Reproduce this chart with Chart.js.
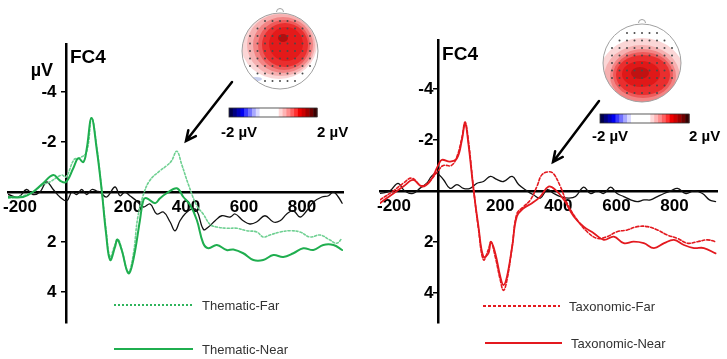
<!DOCTYPE html>
<html>
<head>
<meta charset="utf-8">
<script src="https://cdn.jsdelivr.net/npm/chart.js@4"></script>
<style>
  html, body { margin: 0; padding: 0; background: #fff; }
  #wrap { position: relative; width: 727px; height: 359px; overflow: hidden; }
  #wrap canvas { position: absolute; left: 0; top: 0; }
</style>
</head>
<body>
<div id="wrap">
  <canvas id="thematicChart" width="727" height="359"></canvas>
  <canvas id="taxonomicChart" width="727" height="359"></canvas>
</div>
<script>
// --- Axis ticks ---
const xTickValues = [-200, 200, 400, 600, 800];
const xTickLabels = ["-200", "200", "400", "600", "800"];
const yTickValues = [-4, -2, 2, 4];
const yTickLabels = ["-4", "-2", "2", "4"];

// --- Thematic panel (FC4), time in ms, amplitude in µV ---
const themNearT = [-200, -148, -114, -79, -44, -20, 0, 25, 42, 60, 71, 88, 106, 123, 138, 152, 169, 177, 192, 215, 232, 255, 267, 278, 307, 324, 347, 382, 404, 428, 451, 473, 491, 520, 554, 577, 611, 646, 680, 715, 749, 784, 818, 853, 887, 922, 952];
const themNearV = [0.2, 0.2, 0, -0.35, -0.68, -0.45, -0.4, -0.95, -1.35, -1.2, -1.7, -2.96, -1.7, -0.08, 1.65, 2.72, 2.2, 1.9, 2.32, 3.25, 2.72, 1.12, 0.32, 0.25, 0.45, 0.25, 0.05, -0.15, 0.19, 0.52, 1.12, 2.05, 2.25, 2.12, 2.32, 2.3, 2.45, 2.72, 2.72, 2.52, 2.6, 2.45, 2.25, 2.32, 2.12, 2.12, 2.32];
const themFarT = [-200, -148, -114, -79, -56, -15, 0, 28, 45, 71, 88, 106, 123, 138, 152, 169, 180, 192, 215, 232, 247, 267, 290, 324, 347, 364, 382, 399, 422, 451, 473, 497, 520, 554, 589, 623, 658, 680, 703, 738, 772, 807, 841, 876, 910, 933, 952];
const themFarV = [0.25, 0.15, 0, -0.3, -0.4, -0.68, -0.6, -1.3, -1.35, -1.6, -2.97, -1.8, -0.1, 1.5, 2.6, 2.1, 1.9, 2.3, 3.2, 2.5, 1.05, 0.1, -0.48, -0.85, -1.05, -1.25, -1.63, -1.1, -0.3, 0.55, 0.88, 1.3, 1.4, 1.45, 1.45, 1.55, 1.6, 1.8, 1.72, 1.6, 1.55, 1.6, 1.8, 1.72, 1.92, 2.05, 1.85];
const themDiffT = [-200, -164, -136, -114, -90, -67, -44, -21, 3, 20, 37, 54, 71, 89, 106, 117, 140, 169, 186, 203, 220, 243, 267, 290, 313, 336, 359, 376, 393, 410, 433, 451, 474, 491, 514, 537, 566, 583, 611, 634, 657, 686, 715, 738, 761, 784, 807, 830, 853, 882, 905, 922, 939, 952];
const themDiffV = [0.1, 0.2, -0.1, 0.1, 0, -0.4, -0.1, 0.2, 0.35, 0, 0.1, -0.1, 0.1, -0.1, -0.04, 0, 0.2, -0.2, 0.15, 0, 0.15, 0.35, 0.6, 0.48, 0.88, 0.8, 1.2, 1.55, 1.15, 0.88, 0.68, 0.75, 1.5, 1.4, 1.15, 0.95, 1.0, 0.88, 1.15, 1.28, 1.2, 0.95, 1.2, 1.15, 0.88, 0.75, 1.0, 0.75, 0.4, 0.2, 0.15, 0, 0.2, 0.45];

// --- Taxonomic panel (FC4) ---
const taxNearT = [-200, -154, -120, -86, -56, -28, 1, 13, 41, 65, 82, 93, 104, 122, 139, 156, 173, 182, 197, 214, 225, 237, 255, 271, 294, 323, 352, 380, 404, 433, 467, 501, 536, 570, 605, 639, 673, 708, 743, 778, 812, 846, 881, 915, 955];
const taxNearV = [0.48, 0.1, -0.17, -0.43, -0.17, -0.37, -1.02, -1.22, -1.15, -1.28, -2.0, -2.65, -1.87, -0.04, 1.4, 2.58, 2.45, 1.99, 2.45, 3.36, 3.69, 3.36, 2.18, 1.0, 0.68, 0.48, 0.22, -0.17, -0.04, 0.35, 1.0, 1.4, 1.66, 1.92, 1.79, 2.05, 1.99, 2.05, 2.24, 2.05, 1.92, 2.12, 2.24, 2.24, 2.45];
const taxFarT = [-200, -154, -120, -91, -56, -28, 1, 18, 46, 65, 82, 93, 104, 122, 139, 156, 173, 182, 197, 214, 225, 237, 255, 271, 294, 318, 340, 357, 380, 397, 421, 444, 479, 513, 548, 582, 616, 651, 685, 721, 755, 789, 824, 858, 893, 927, 955];
const taxFarV = [0.35, 0, -0.3, -0.5, -0.2, -0.4, -0.8, -1.0, -1.0, -1.35, -2.1, -2.7, -2.0, -0.1, 1.5, 2.7, 2.3, 2.0, 2.6, 3.5, 3.9, 3.5, 2.18, 0.9, 0.62, 0.35, -0.17, -0.63, -0.75, -0.68, -0.17, 0.48, 1.14, 1.6, 1.86, 1.79, 1.6, 1.53, 1.4, 1.4, 1.53, 1.73, 1.86, 2.05, 1.99, 1.92, 1.99];
const taxDiffT = [-200, -166, -138, -115, -86, -63, -39, -23, -6, 18, 41, 65, 87, 110, 134, 156, 180, 202, 225, 255, 277, 306, 328, 352, 376, 398, 421, 450, 473, 501, 524, 548, 570, 594, 616, 639, 663, 685, 709, 731, 755, 778, 801, 824, 853, 881, 910, 934, 955];
const taxDiffV = [0.1, 0, -0.3, 0, 0.1, -0.1, -0.3, -0.57, -0.7, -0.45, -0.1, -0.25, -0.1, -0.1, -0.3, -0.37, -0.57, -0.45, -0.37, -0.57, -0.25, 0, 0.15, 0.28, -0.05, 0.1, 0.22, 0.28, 0.22, -0.15, 0.1, 0, 0.1, -0.15, 0.1, 0.22, 0.35, 0.42, 0.35, 0.35, 0.22, 0.1, 0, -0.1, 0.1, 0, 0.1, 0.35, 0.42];

const toPoints = (ts, vs) => ts.map((t, i) => ({ x: t, y: vs[i] }));

// --- Colour bar steps (-2 µV .. 2 µV) ---
const colorbarSteps = [
  "#00004a", "#000080", "#0000b8", "#0000f0", "#3a3aff", "#7070ff", "#a8a8ff", "#d8d8ff",
  "#ffffff", "#ffffff", "#ffffff", "#ffffff", "#ffffff",
  "#ffd8d8", "#ffb4b4", "#ff8c8c", "#ff6060", "#ff3030", "#f00000", "#cc0000", "#a00000", "#700000", "#3a0000",
];

const AXIS_FONT = { family: "'Liberation Sans', Arial, sans-serif", size: 17, weight: "bold" };

function drawHead(ctx, head) {
  const { cx, cy, r, layers } = head;
  ctx.save();
  ctx.strokeStyle = "#a0a0a0";
  ctx.lineWidth = 1;
  // nose
  ctx.beginPath();
  ctx.arc(cx, cy - r - 1, 3.5, Math.PI, 0);
  ctx.stroke();
  ctx.beginPath();
  ctx.arc(cx, cy, r, 0, 2 * Math.PI);
  ctx.fillStyle = "#fff";
  ctx.fill();
  ctx.save();
  ctx.clip();
  layers.forEach((l) => {
    ctx.beginPath();
    ctx.ellipse(l.x, l.y, l.rx, l.ry, 0, 0, 2 * Math.PI);
    ctx.fillStyle = l.c;
    ctx.fill();
  });
  // electrodes
  ctx.fillStyle = "#4a4a4a";
  for (let gy = -5; gy <= 5; gy++) {
    for (let gx = -5; gx <= 5; gx++) {
      const px = cx + gx * 7.5;
      const py = cy + gy * 7.5;
      if (Math.hypot(px - cx, py - cy) < r - 3) {
        ctx.beginPath();
        ctx.arc(px, py, 1, 0, 2 * Math.PI);
        ctx.fill();
      }
    }
  }
  ctx.restore();
  ctx.beginPath();
  ctx.arc(cx, cy, r, 0, 2 * Math.PI);
  ctx.stroke();
  ctx.restore();
}

function drawColorbar(ctx, cb) {
  const step = cb.w / colorbarSteps.length;
  colorbarSteps.forEach((c, i) => {
    ctx.fillStyle = c;
    ctx.fillRect(cb.x + i * step, cb.y, step + 0.5, cb.h);
  });
  ctx.strokeStyle = "#333";
  ctx.lineWidth = 0.8;
  ctx.strokeRect(cb.x, cb.y, cb.w, cb.h);
  ctx.fillStyle = "#000";
  ctx.font = "bold 15px 'Liberation Sans', Arial, sans-serif";
  ctx.textBaseline = "alphabetic";
  ctx.textAlign = "center";
  ctx.fillText(cb.lo, cb.x + 10, cb.labelY);
  ctx.textAlign = "left";
  ctx.fillText(cb.hi, cb.x + cb.w, cb.labelY);
}

function drawArrow(ctx, a) {
  const ang = Math.atan2(a.y2 - a.y1, a.x2 - a.x1);
  ctx.strokeStyle = "#000";
  ctx.lineWidth = 2.5;
  ctx.lineCap = "round";
  ctx.beginPath();
  ctx.moveTo(a.x1, a.y1);
  ctx.lineTo(a.x2, a.y2);
  ctx.moveTo(a.x2 - 11 * Math.cos(ang - 0.45), a.y2 - 11 * Math.sin(ang - 0.45));
  ctx.lineTo(a.x2, a.y2);
  ctx.lineTo(a.x2 - 11 * Math.cos(ang + 0.45), a.y2 - 11 * Math.sin(ang + 0.45));
  ctx.stroke();
}

// --- Decorations: channel name, unit, first tick label, topomap, legend ---
const erpDecor = {
  id: "erpDecor",
  beforeDatasetsDraw(chart, args, opts) {
    const ctx = chart.ctx;
    const xs = chart.scales.x;
    const y0 = chart.scales.y.getPixelForValue(0);
    ctx.save();
    ctx.fillStyle = "#000";
    ctx.font = "bold 17px 'Liberation Sans', Arial, sans-serif";
    ctx.textAlign = "center";
    ctx.textBaseline = "middle";
    ctx.fillText(xTickLabels[0], xs.getPixelForValue(xTickValues[0]) + opts.firstTickShift, y0 + 15);
    ctx.restore();
  },
  afterDraw(chart, args, opts) {
    const ctx = chart.ctx;
    const x0 = chart.scales.x.getPixelForValue(0);
    ctx.save();
    ctx.fillStyle = "#000";
    ctx.font = "bold 19px 'Liberation Sans', Arial, sans-serif";
    ctx.textAlign = "left";
    ctx.textBaseline = "alphabetic";
    ctx.fillText("FC4", x0 + 4, opts.channelY);
    if (opts.unit) {
      ctx.font = "bold 18px 'Liberation Sans', Arial, sans-serif";
      ctx.textAlign = "right";
      ctx.fillText(opts.unit, x0 - 13, 76);
    }

    drawHead(ctx, opts.head);
    drawColorbar(ctx, opts.colorbar);
    drawArrow(ctx, opts.arrow);

    // legend
    opts.legend.forEach((item) => {
      const ds = chart.data.datasets[item.dataset];
      ctx.strokeStyle = ds.legendColor || ds.borderColor;
      ctx.lineWidth = 1.8;
      ctx.lineCap = "butt";
      ctx.setLineDash(ds.borderDash || []);
      ctx.beginPath();
      ctx.moveTo(item.x1, item.y);
      ctx.lineTo(item.x2, item.y);
      ctx.stroke();
      ctx.setLineDash([]);
      ctx.fillStyle = "#333";
      ctx.font = "13px 'Liberation Sans', Arial, sans-serif";
      ctx.textAlign = "left";
      ctx.textBaseline = "middle";
      ctx.fillText(ds.label, item.x2 + 9, item.y + 1);
    });
    ctx.restore();
  },
};

function buildErpChart(canvasId, panel) {
  const canvas = document.getElementById(canvasId);
  return new Chart(canvas, {
    type: "line",
    data: { datasets: panel.datasets },
    options: {
      responsive: false,
      animation: false,
      layout: { padding: panel.padding },
      elements: {
        point: { radius: 0 },
        line: { tension: 0.4, borderCapStyle: "round", borderJoinStyle: "round" },
      },
      scales: {
        x: {
          type: "linear",
          min: -200,
          max: panel.xMax,
          position: { y: 0 },
          afterBuildTicks: (scale) => {
            scale.ticks = xTickValues.map((v) => ({ value: v }));
          },
          grid: { drawOnChartArea: false, drawTicks: false },
          border: { display: true, color: "#000", width: 2.5 },
          ticks: {
            autoSkip: false,
            maxRotation: 0,
            padding: 5,
            labelOffset: 4,
            color: "#000",
            font: AXIS_FONT,
            callback: (value, index) => (index === 0 ? "" : xTickLabels[index]),
          },
        },
        y: {
          type: "linear",
          min: panel.yMin,
          max: panel.yMax,
          reverse: true,
          position: { x: 0 },
          afterBuildTicks: (scale) => {
            scale.ticks = yTickValues.map((v) => ({ value: v }));
          },
          grid: { drawOnChartArea: false, drawTicks: true, tickLength: 4, color: "#000", lineWidth: 1.5 },
          border: { display: true, color: "#000", width: 2.5 },
          ticks: {
            autoSkip: false,
            color: "#000",
            font: AXIS_FONT,
            callback: (value, index) => yTickLabels[index] + panel.yLabelGap,
          },
        },
      },
      plugins: {
        legend: { display: false },
        tooltip: { enabled: false },
        erpDecor: panel.decor,
      },
    },
    plugins: [erpDecor],
  });
}

document.addEventListener("DOMContentLoaded", function () {
  // --- Thematic panel (left) ---
  buildErpChart("thematicChart", {
    padding: { left: 8, right: 384, top: 44, bottom: 36 },
    xMax: 955,
    yMin: -5.92,
    yMax: 5.24,
    yLabelGap: "  ",
    datasets: [
      { label: "Thematic-Near", data: toPoints(themNearT, themNearV), borderColor: "#1fae4f", borderWidth: 2 },
      { label: "Thematic-Far", data: toPoints(themFarT, themFarV), borderColor: "#6fd092", legendColor: "#2fb45c", borderWidth: 1.6, borderDash: [2, 2] },
      { label: "Thematic-Far minus Near", data: toPoints(themDiffT, themDiffV), borderColor: "#111", borderWidth: 1.3 },
    ],
    decor: {
      firstTickShift: 12,
      channelY: 63,
      unit: "µV",
      head: {
        cx: 280, cy: 51, r: 38,
        layers: [
          { x: 279, y: 44, rx: 38, ry: 35, c: "#fbd6d6" },
          { x: 281, y: 45, rx: 34, ry: 31, c: "#f6b0b0" },
          { x: 283, y: 45, rx: 30, ry: 28, c: "#f28484" },
          { x: 284, y: 45, rx: 26, ry: 25, c: "#ee5a5a" },
          { x: 285, y: 45, rx: 23, ry: 22, c: "#ea2e2e" },
          { x: 286, y: 44, rx: 17, ry: 17, c: "#e41a1a" },
          { x: 283, y: 38, rx: 5, ry: 4, c: "#b01010" },
          { x: 256, y: 79, rx: 6, ry: 2, c: "#c8d0f0" },
        ],
      },
      colorbar: { x: 229, y: 108, w: 88, h: 9, lo: "-2 µV", hi: "2 µV", labelY: 137 },
      arrow: { x1: 232, y1: 82, x2: 186, y2: 141 },
      legend: [
        { dataset: 1, x1: 114, x2: 193, y: 305 },
        { dataset: 0, x1: 114, x2: 193, y: 349 },
      ],
    },
  });

  // --- Taxonomic panel (right) ---
  buildErpChart("taxonomicChart", {
    padding: { left: 380, right: 10, top: 40, bottom: 36 },
    xMax: 960,
    yMin: -5.92,
    yMax: 5.18,
    yLabelGap: " ",
    datasets: [
      { label: "Taxonomic-Near", data: toPoints(taxNearT, taxNearV), borderColor: "#e3191f", borderWidth: 1.8 },
      { label: "Taxonomic-Far", data: toPoints(taxFarT, taxFarV), borderColor: "#e3191f", borderWidth: 1.6, borderDash: [3, 2] },
      { label: "Taxonomic-Far minus Near", data: toPoints(taxDiffT, taxDiffV), borderColor: "#111", borderWidth: 1.3 },
    ],
    decor: {
      firstTickShift: 14,
      channelY: 60,
      unit: null,
      head: {
        cx: 642, cy: 63, r: 39,
        layers: [
          { x: 642, y: 78, rx: 44, ry: 40, c: "#fbd6d6" },
          { x: 642, y: 77, rx: 38, ry: 32, c: "#f6b0b0" },
          { x: 643, y: 76, rx: 33, ry: 27, c: "#f28484" },
          { x: 643, y: 75, rx: 30, ry: 23, c: "#ee5a5a" },
          { x: 643, y: 75, rx: 27, ry: 20, c: "#ea2e2e" },
          { x: 641, y: 74, rx: 19, ry: 13, c: "#e01818" },
          { x: 640, y: 73, rx: 9, ry: 6, c: "#c01212" },
        ],
      },
      colorbar: { x: 600, y: 114, w: 89, h: 9, lo: "-2 µV", hi: "2 µV", labelY: 141 },
      arrow: { x1: 599, y1: 101, x2: 553, y2: 162 },
      legend: [
        { dataset: 1, x1: 483, x2: 560, y: 306 },
        { dataset: 0, x1: 485, x2: 562, y: 343 },
      ],
    },
  });
});
</script>
</body>
</html>
